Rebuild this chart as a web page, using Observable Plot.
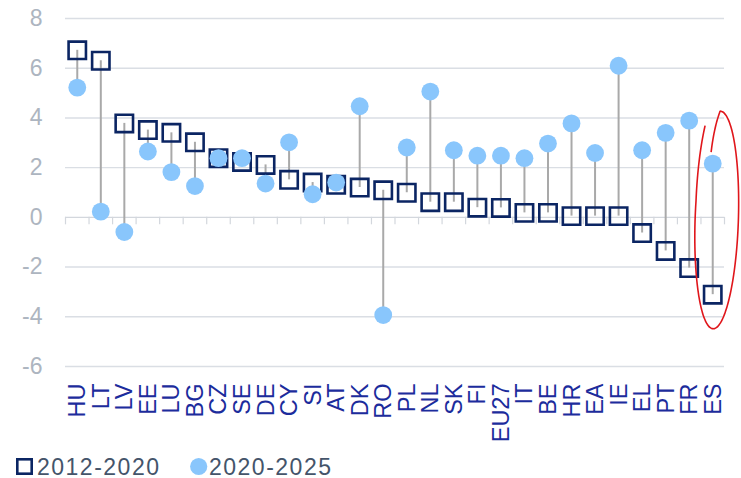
<!DOCTYPE html>
<html>
<head>
<meta charset="utf-8">
<script src="https://cdn.jsdelivr.net/npm/d3@7"></script>
<script src="https://cdn.jsdelivr.net/npm/@observablehq/plot@0.6"></script>
<style>
  html, body { margin: 0; padding: 0; background: #fff; }
  #wrap { position: relative; width: 741px; height: 478px; overflow: hidden; }
  svg { display: block; }
  #legend { position: absolute; left: 0; top: 436px; }
</style>
</head>
<body>
<div id="wrap"></div>
<script>
// ---- data ----
const categories = ["HU","LT","LV","EE","LU","BG","CZ","SE","DE","CY","SI","AT","DK","RO","PL","NL","SK","FI","EU27","IT","BE","HR","EA","IE","EL","PT","FR","ES"];
const values2012_2020 = [6.72, 6.30, 3.78, 3.51, 3.40, 3.02, 2.38, 2.23, 2.11, 1.51, 1.40, 1.31, 1.20, 1.09, 0.99, 0.61, 0.61, 0.39, 0.38, 0.18, 0.18, 0.05, 0.05, 0.05, -0.63, -1.35, -2.04, -3.11];
const values2020_2025 = [5.22, 0.23, -0.59, 2.65, 1.82, 1.26, 2.38, 2.38, 1.36, 3.02, 0.93, 1.40, 4.47, -3.93, 2.81, 5.06, 2.70, 2.48, 2.48, 2.38, 2.97, 3.78, 2.59, 6.10, 2.70, 3.40, 3.89, 2.16];
const yTicks = [-6, -4, -2, 0, 2, 4, 6, 8];
const seriesNames = ["2012-2020", "2020-2025"];
const highlightCategory = "ES";
const highlightRange = [-4.5, 4.25];

// ---- layout ----
const W = 741, H = 448, ML = 65, MR = 17, MT = 18, MB = 82;
const navy = "#0b2563", lightBlue = "#89c6fc", gridColor = "#dadee4";
const font = "'Liberation Sans', Arial, sans-serif";

const table = categories.map((c, i) => ({cat: c, a: values2012_2020[i], b: values2020_2025[i]}));
const bw = (W - ML - MR) / categories.length;

const chart = Plot.plot({
  width: W, height: H,
  marginLeft: ML, marginRight: MR, marginTop: MT, marginBottom: MB,
  x: {type: "band", domain: categories, padding: 0, round: false, axis: null},
  y: {domain: [-6, 8], axis: null},
  style: {fontFamily: font, background: "white", overflow: "visible"},
  marks: [
    Plot.ruleY(yTicks.filter(d => d !== 0), {y: d => d, stroke: gridColor, strokeWidth: 1.4}),
    Plot.ruleY([0], {y: d => d, stroke: "#d3d7dd", strokeWidth: 1.4}),
    Plot.ruleX(categories, {x: d => d, y1: 0, y2: -0.3, dx: -bw / 2, stroke: "#d3d7dd", strokeWidth: 1.2}),
    Plot.ruleX(categories.slice(-1), {x: d => d, y1: 0, y2: -0.3, dx: bw / 2, stroke: "#d3d7dd", strokeWidth: 1.2}),
    Plot.text(yTicks, {y: d => d, text: d => String(d), frameAnchor: "left", textAnchor: "end", dx: -23, fontSize: 23, fill: "#adb5c0"}),
    Plot.text(categories, {x: d => d, text: d => d, frameAnchor: "bottom", rotate: -90, textAnchor: "end", dx: 8, dy: 17, fontSize: 23.5, fill: "#1c2c9c"}),
    Plot.ruleX(table, {x: "cat", y1: "a", y2: "b", stroke: "#a9a9a9", strokeWidth: 2}),
    Plot.dot(table, {x: "cat", y: "a", symbol: "square", r: 9.8, stroke: navy, strokeWidth: 2.6, fill: "none"}),
    Plot.dot(table, {x: "cat", y: "b", r: 8.9, fill: lightBlue, stroke: "none"})
  ]
});

document.getElementById("wrap").appendChild(chart);

// ---- hand-drawn highlight ellipse, placed via the same scales ----
const xs = d3.scaleBand(categories, [ML, W - MR]).padding(0);
const ys = d3.scaleLinear([-6, 8], [H - MB, MT]);
const cx = xs(highlightCategory) + xs.bandwidth() / 2 + 4.5;
const cy = ys((highlightRange[0] + highlightRange[1]) / 2);
const rx = xs.bandwidth() * 0.92;
const ry = (ys(highlightRange[0]) - ys(highlightRange[1])) / 2;
const pts = [];
for (let t = -120; t <= 232; t += 2) {
  let s = 1;
  if (t < -90) s = 0.72 + 0.28 * ((t + 120) / 30);
  else if (t > 190) s = 1 + 0.1 * ((t - 190) / 42);
  const a = t * Math.PI / 180;
  const dy = ry * s * Math.sin(a);
  const dx = rx * s * Math.cos(a) - dy * 0.032;
  pts.push([cx + dx, cy + dy]);
}
d3.select(chart).append("path")
  .attr("d", d3.line().curve(d3.curveCatmullRom)(pts))
  .attr("fill", "none").attr("stroke", "#e0161b").attr("stroke-width", 1.6);

// ---- legend ----
const leg = d3.select("#wrap").append("svg").attr("id", "legend").attr("width", W).attr("height", 42)
  .style("font-family", font);
leg.append("rect").attr("x", 17.3).attr("y", 23.3).attr("width", 14.4).attr("height", 14.4)
  .attr("fill", "none").attr("stroke", navy).attr("stroke-width", 2.6);
leg.append("text").attr("x", 37).attr("y", 38.5).attr("font-size", 23).attr("fill", "#44546a")
  .attr("letter-spacing", 1.5).text(seriesNames[0]);
leg.append("circle").attr("cx", 198.7).attr("cy", 30.5).attr("r", 8.6).attr("fill", lightBlue);
leg.append("text").attr("x", 209).attr("y", 38.5).attr("font-size", 23).attr("fill", "#44546a")
  .attr("letter-spacing", 1.5).text(seriesNames[1]);
</script>
</body>
</html>
